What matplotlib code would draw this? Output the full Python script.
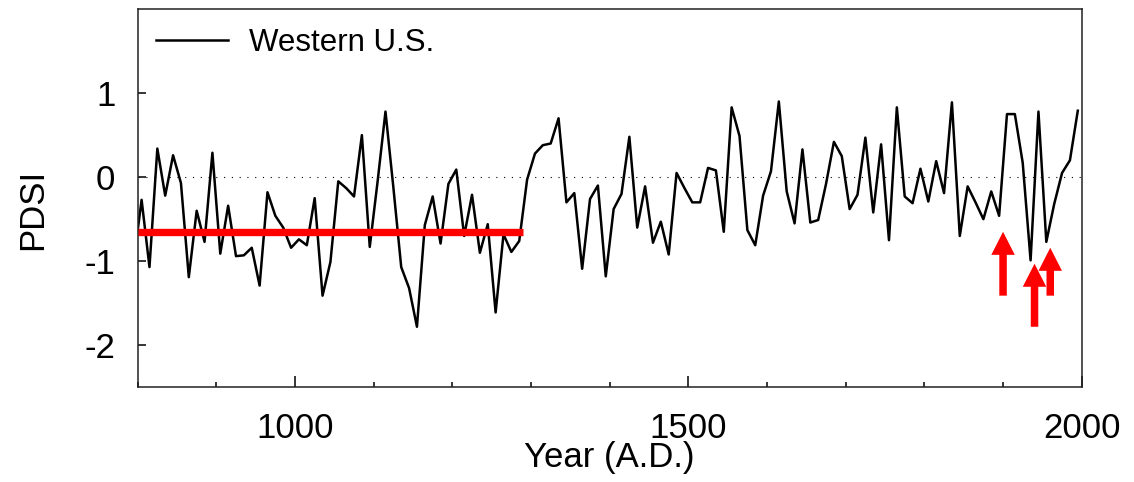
import numpy as np
import matplotlib
matplotlib.use('Agg')
import matplotlib.pyplot as plt

plt.rcParams['font.family'] = ['Liberation Sans', 'DejaVu Sans']
plt.rcParams['axes.unicode_minus'] = False

# decadal PDSI, western U.S. (decade midpoints)
years = np.arange(795, 2000, 10)
pdsi = [
    -1.00,
    -0.27, -1.07, 0.34, -0.22, 0.26, -0.07, -1.19, -0.40, -0.77, 0.29,
    -0.91, -0.34, -0.94, -0.93, -0.84, -1.29, -0.18, -0.46, -0.60, -0.84,
    -0.74, -0.81, -0.25, -1.41, -1.01, -0.05, -0.13, -0.23, 0.50, -0.83,
    -0.05, 0.78, -0.12, -1.07, -1.32, -1.78, -0.57, -0.23, -0.79, -0.08,
    0.09, -0.70, -0.21, -0.90, -0.56, -1.61, -0.68, -0.89, -0.76, -0.03,
    0.28, 0.38, 0.40, 0.70, -0.30, -0.19, -1.09, -0.26, -0.10, -1.18,
    -0.38, -0.20, 0.48, -0.60, -0.11, -0.78, -0.53, -0.92, 0.05, -0.13,
    -0.30, -0.30, 0.11, 0.08, -0.65, 0.83, 0.49, -0.63, -0.81, -0.22,
    0.07, 0.90, -0.17, -0.55, 0.33, -0.54, -0.51, -0.08, 0.42, 0.25,
    -0.38, -0.21, 0.47, -0.42, 0.39, -0.75, 0.83, -0.23, -0.31, 0.10,
    -0.29, 0.19, -0.19, 0.89, -0.70, -0.11, -0.30, -0.50, -0.17, -0.46,
    0.75, 0.75, 0.17, -0.99, 0.78, -0.77, -0.32, 0.05, 0.20, 0.79,
]

# medieval mean (red bar)
bar_years = [800, 1290]
bar_level = -0.65

# drought arrows: year, tip, tail
arrow_years = [1900, 1940, 1960]
arrow_tips = [-0.65, -1.03, -0.84]
arrow_tails = [-1.41, -1.78, -1.41]


def make_plot():
    fig = plt.figure(figsize=(11.34, 4.82), dpi=100)
    ax = fig.add_axes([0.1214, 0.1965, 0.8325, 0.7848])

    ax.axhline(0, ls=(0, (1, 6)), lw=0.8, color='k', zorder=1)
    ax.plot(years, pdsi, '-', color='k', lw=1.8, label='Western U.S.', zorder=2)
    ax.plot(bar_years, [bar_level, bar_level], '-', color='#ff0000', lw=5.3,
            solid_capstyle='butt', zorder=3)

    for yr, tip, tail in zip(arrow_years, arrow_tips, arrow_tails):
        ax.annotate('', xy=(yr, tip), xytext=(yr, tail),
                    arrowprops=dict(arrowstyle='simple,head_length=16.6,head_width=16.9,tail_width=5.4',
                                    mutation_scale=1, color='#ff0000', lw=0,
                                    shrinkA=0, shrinkB=0), zorder=4)

    ax.set_xlim(800, 2000)
    ax.set_ylim(-2.5, 2.0)
    ax.set_xticks([1000, 1500, 2000])
    ax.set_xticks(np.arange(800, 2001, 100), minor=True)
    ax.set_yticks([-2, -1, 0, 1])

    ax.tick_params(axis='x', which='major', direction='in', length=8, width=1.1,
                   labelsize=25, pad=18, top=False)
    ax.tick_params(axis='x', which='minor', direction='in', length=3.6, width=1.1, top=False)
    ax.tick_params(axis='y', which='major', direction='in', length=6, width=1.1,
                   labelsize=25, pad=16, right=False)
    for s in ax.spines.values():
        s.set_linewidth(1.1)
        s.set_color('#222222')

    ax.set_xlabel('Year (A.D.)', fontsize=25, labelpad=-3)
    ax.set_ylabel('PDSI', fontsize=25)
    ax.yaxis.set_label_coords(-0.094, 0.47)

    ax.legend(loc='upper left', frameon=False, fontsize=22.5, handlelength=2.3,
              handletextpad=0.65, borderaxespad=0.3, borderpad=0.3)

    fig.savefig('out.png', dpi=100)


if __name__ == '__main__':
    make_plot()
